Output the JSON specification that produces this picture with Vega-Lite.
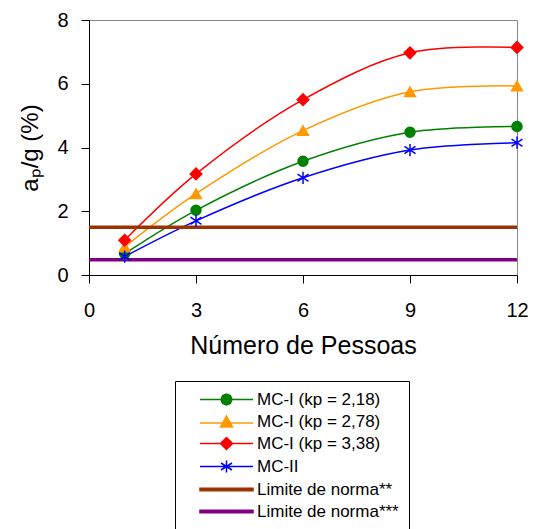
{
  "$schema": "https://vega.github.io/schema/vega-lite/v6.json",
  "width": 428,
  "height": 255,
  "autosize": {"type": "none"},
  "padding": {"left": 89, "top": 20, "right": 27, "bottom": 254},
  "config": {
    "font": "Liberation Sans",
    "view": {"stroke": "#888888", "strokeWidth": 1},
    "axis": {"grid": false, "domainColor": "#000000", "tickColor": "#000000", "labelColor": "#000000", "titleColor": "#000000", "titleFontWeight": "normal", "labelFont": "Liberation Sans", "titleFont": "Liberation Sans"}
  },
  "data": {
    "values": [
      {"s": "MC-I (kp = 2,18)", "n": 1, "v": 0.67},
      {"s": "MC-I (kp = 2,18)", "n": 3, "v": 2.03},
      {"s": "MC-I (kp = 2,18)", "n": 6, "v": 3.57},
      {"s": "MC-I (kp = 2,18)", "n": 9, "v": 4.48},
      {"s": "MC-I (kp = 2,18)", "n": 12, "v": 4.66},
      {"s": "MC-I (kp = 2,78)", "n": 1, "v": 0.88},
      {"s": "MC-I (kp = 2,78)", "n": 3, "v": 2.55},
      {"s": "MC-I (kp = 2,78)", "n": 6, "v": 4.53},
      {"s": "MC-I (kp = 2,78)", "n": 9, "v": 5.75},
      {"s": "MC-I (kp = 2,78)", "n": 12, "v": 5.93},
      {"s": "MC-I (kp = 3,38)", "n": 1, "v": 1.09},
      {"s": "MC-I (kp = 3,38)", "n": 3, "v": 3.17},
      {"s": "MC-I (kp = 3,38)", "n": 6, "v": 5.5},
      {"s": "MC-I (kp = 3,38)", "n": 9, "v": 6.97},
      {"s": "MC-I (kp = 3,38)", "n": 12, "v": 7.14},
      {"s": "MC-II", "n": 1, "v": 0.58},
      {"s": "MC-II", "n": 3, "v": 1.7},
      {"s": "MC-II", "n": 6, "v": 3.05},
      {"s": "MC-II", "n": 9, "v": 3.92},
      {"s": "MC-II", "n": 12, "v": 4.15},
      {"s": "Limite de norma**", "n": 0, "v": 1.5},
      {"s": "Limite de norma**", "n": 12, "v": 1.5},
      {"s": "Limite de norma***", "n": 0, "v": 0.48},
      {"s": "Limite de norma***", "n": 12, "v": 0.48}
    ]
  },
  "encoding": {
    "x": {
      "field": "n", "type": "quantitative",
      "scale": {"domain": [0, 12], "nice": false},
      "axis": {"values": [0, 3, 6, 9, 12], "title": "Número de Pessoas", "labelFontSize": 20, "titleFontSize": 25, "tickSize": 8, "labelPadding": 17, "titlePadding": 13, "labelFlush": false}
    },
    "y": {
      "field": "v", "type": "quantitative",
      "scale": {"domain": [0, 8], "nice": false},
      "axis": {"values": [0, 2, 4, 6, 8], "title": "aₚ/g (%)", "labelFontSize": 20, "titleFontSize": 24, "tickSize": 8, "labelPadding": 13, "titlePadding": 14, "labelFlush": false}
    }
  },
  "layer": [
    {
      "transform": [{"filter": "indexof(datum.s, 'Limite') < 0"}],
      "mark": {"type": "line", "interpolate": "catmull-rom", "strokeWidth": 1.5},
      "encoding": {
        "color": {
          "field": "s", "type": "nominal",
          "scale": {
            "domain": ["MC-I (kp = 2,18)", "MC-I (kp = 2,78)", "MC-I (kp = 3,38)", "MC-II", "Limite de norma**", "Limite de norma***"],
            "range": ["#008000", "#FF9900", "#FF0000", "#0000FF", "#993300", "#800080"]
          },
          "legend": {
            "title": null,
            "orient": "none",
            "legendX": 86,
            "legendY": 361,
            "strokeColor": "#000000",
            "fillColor": "#ffffff",
            "padding": 10,
            "labelFontSize": 17,
            "labelFont": "Liberation Sans",
            "labelColor": "#000000",
            "symbolSize": 100,
            "symbolOffset": 33,
            "labelOffset": 22,
            "rowPadding": 4,
            "symbolStrokeWidth": 1.5,
            "encode": {
              "symbols": {
                "update": {
                  "shape": {"signal": "datum.value == 'MC-I (kp = 2,18)' ? 'M-5.3,0H5.3M1.1,0L0.78,0.78L0,1.1L-0.78,0.78L-1.1,0L-0.78,-0.78L0,-1.1L0.78,-0.78Z' : datum.value == 'MC-I (kp = 2,78)' ? 'M-5.3,0.3H5.3M0,-1.1L1.2,1.1L-1.2,1.1Z' : datum.value == 'MC-I (kp = 3,38)' ? 'M-5.3,0H5.3M0,-1.2L1.2,0L0,1.2L-1.2,0Z' : datum.value == 'MC-II' ? 'M-5.3,0H5.3M0,-1.2V1.2M-1.1,-0.7L1.1,0.7M-1.1,0.7L1.1,-0.7' : 'M-5.3,-0.25H5.3V0.25H-5.3Z'"}
                }
              }
            }
          }
        }
      }
    },
    {
      "transform": [{"filter": "indexof(datum.s, 'Limite') >= 0"}],
      "mark": {"type": "line", "strokeWidth": 3.5},
      "encoding": {
        "color": {"field": "s", "type": "nominal"}
      }
    },
    {
      "transform": [{"filter": "indexof(datum.s, 'Limite') < 0"}],
      "mark": {"type": "point", "filled": true, "opacity": 1, "strokeWidth": 1.5},
      "encoding": {
        "color": {"field": "s", "type": "nominal"},
        "stroke": {
          "field": "s", "type": "nominal",
          "scale": {"domain": ["MC-I (kp = 2,18)", "MC-I (kp = 2,78)", "MC-I (kp = 3,38)", "MC-II"], "range": ["#008000", "#FF9900", "#FF0000", "#0000FF"]},
          "legend": null
        },
        "shape": {
          "field": "s", "type": "nominal",
          "scale": {"domain": ["MC-I (kp = 2,18)", "MC-I (kp = 2,78)", "MC-I (kp = 3,38)", "MC-II"], "range": ["circle", "triangle-up", "diamond", "M0,-1V1M-0.9,-0.6L0.9,0.6M-0.9,0.6L0.9,-0.6"]},
          "legend": null
        },
        "size": {
          "field": "s", "type": "nominal",
          "scale": {"domain": ["MC-I (kp = 2,18)", "MC-I (kp = 2,78)", "MC-I (kp = 3,38)", "MC-II"], "range": [100, 150, 130, 150]},
          "legend": null
        }
      }
    }
  ]
}
